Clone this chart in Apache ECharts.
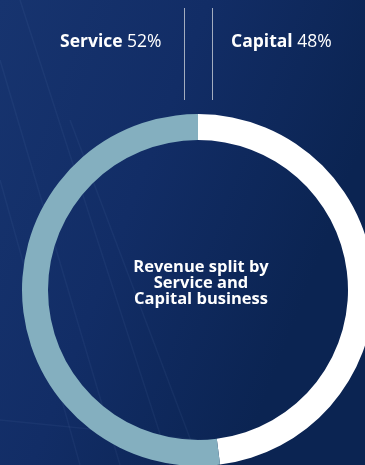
<!DOCTYPE html>
<html>
<head>
<meta charset="utf-8">
<script src="https://cdn.jsdelivr.net/npm/echarts@6/dist/echarts.min.js"></script>
<style>
  html, body { margin: 0; padding: 0; background: #0f2a5e; }
  #chart { width: 365px; height: 465px; }
</style>
</head>
<body>
<div id="chart"></div>
<script>
// Revenue split by business line
const segments = ['Capital', 'Service'];
const shares = [48, 52];
const segmentColors = ['#ffffff', '#84afbf'];
const centerTitle = 'Revenue split by\nService and\nCapital business';

const chart = echarts.init(document.getElementById('chart'), null, { renderer: 'canvas' });

const pieData = segments.map((name, i) => ({
  name: name,
  value: shares[i],
  itemStyle: { color: segmentColors[i] }
}));

const FONT = '"Open Sans", Inter, sans-serif';

// Header labels: Service on the left, Capital on the right
function headerText(name) {
  const i = segments.indexOf(name);
  return '{b|' + name + ' }{r|' + shares[i] + '%}';
}
const headerRich = {
  b: { fontFamily: FONT, fontWeight: 'bold', fontSize: 17.5, fill: '#ffffff' },
  r: { fontFamily: FONT, fontWeight: 'normal', fontSize: 17.5, fill: '#ffffff' }
};

// faint light streaks across the backdrop
const streaks = [
  [[0, 60], [120, 465]],
  [[20, 0], [170, 465]],
  [[70, 120], [200, 465]],
  [[0, 180], [80, 465]],
  [[0, 420], [200, 440]]
].map(p => ({
  type: 'line',
  silent: true,
  shape: { x1: p[0][0], y1: p[0][1], x2: p[1][0], y2: p[1][1] },
  style: { stroke: 'rgba(150,180,235,0.06)', lineWidth: 1.5 }
}));

chart.setOption({
  backgroundColor: {
    type: 'linear', x: 0, y: 0, x2: 1, y2: 0.3,
    colorStops: [
      { offset: 0, color: '#17346f' },
      { offset: 0.5, color: '#122d66' },
      { offset: 1, color: '#0b2452' }
    ]
  },
  animation: false,
  graphic: streaks.concat([
    {
      type: 'line', silent: true,
      shape: { x1: 184.5, y1: 8, x2: 184.5, y2: 100 },
      style: { stroke: '#a3adbf', lineWidth: 1 }
    },
    {
      type: 'line', silent: true,
      shape: { x1: 212.5, y1: 8, x2: 212.5, y2: 100 },
      style: { stroke: '#a3adbf', lineWidth: 1 }
    },
    {
      type: 'text', x: 60, y: 42,
      style: { text: headerText('Service'), rich: headerRich, verticalAlign: 'middle' }
    },
    {
      type: 'text', x: 231, y: 42,
      style: { text: headerText('Capital'), rich: headerRich, verticalAlign: 'middle' }
    },
    {
      type: 'text', silent: true,
      x: 201, y: 283,
      style: {
        text: centerTitle,
        fill: '#ffffff',
        fontFamily: FONT,
        fontWeight: 'bold',
        fontSize: 16.5,
        lineHeight: 16,
        align: 'center',
        verticalAlign: 'middle'
      }
    }
  ]),
  series: [{
    type: 'pie',
    center: [198, 290],
    radius: [150, 176],
    startAngle: 90,
    clockwise: true,
    silent: true,
    label: { show: false },
    labelLine: { show: false },
    itemStyle: { borderWidth: 0 },
    data: pieData
  }]
});
</script>
</body>
</html>
